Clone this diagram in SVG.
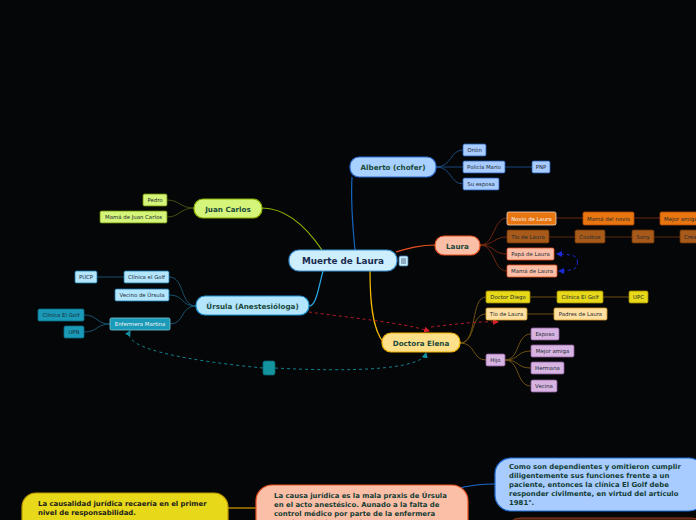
<svg xmlns="http://www.w3.org/2000/svg" width="696" height="520" viewBox="0 0 696 520">
<defs>
<style>
text{font-family:"DejaVu Sans","Verdana",sans-serif;}
.main{font-size:7.2px;font-weight:bold;fill:#1b4a3c;text-anchor:middle;}
.root{font-size:8.8px;font-weight:bold;fill:#1a2b4f;text-anchor:middle;}
.sub{font-size:5.4px;fill:#1c2a33;text-anchor:middle;}
.subw{font-size:5.4px;fill:#f4f4f4;text-anchor:middle;}
.big{font-size:6.9px;font-weight:bold;fill:#1a1a1a;}
.bigg{font-size:6.9px;font-weight:bold;fill:#123c33;}
.c{fill:none;stroke-width:1.2;}
.cs{fill:none;stroke-width:0.9;}
.dash{fill:none;stroke-width:1;stroke-dasharray:3,3;}
</style>
<marker id="arR" markerWidth="6" markerHeight="6" refX="5" refY="3" orient="auto" markerUnits="userSpaceOnUse"><path d="M0,0 L6,3 L0,6 z" fill="#d8202a"/></marker>
<marker id="arT" markerWidth="6" markerHeight="6" refX="5" refY="3" orient="auto" markerUnits="userSpaceOnUse"><path d="M0,0 L6,3 L0,6 z" fill="#138fa0"/></marker>
<marker id="arB" markerWidth="6" markerHeight="6" refX="5" refY="3" orient="auto" markerUnits="userSpaceOnUse"><path d="M0,0 L6,3 L0,6 z" fill="#1a2ad8"/></marker>
</defs>
<rect width="696" height="520" fill="#050608"/>

<g id="connectors">
<path class="c" d="M355,250 C352,220 351,195 352,177" stroke="#1565c0"/>
<path class="c" d="M396,252 C410,248 420,245 435,245" stroke="#e8501e"/>
<path class="c" d="M322,250 C305,225 285,208 262,208" stroke="#8db600"/>
<path class="c" d="M323,271 C318,290 316,306 309,306" stroke="#29a8e8"/>
<path class="c" d="M370,271 C370,300 372,330 384,343" stroke="#f5b800"/>
<path class="cs" stroke="#1e4f8a" d="M436,167 C452,167 450,150 463,150"/>
<path class="cs" stroke="#1e4f8a" d="M436,167 L463,167"/>
<path class="cs" stroke="#1e4f8a" d="M436,167 C452,167 450,184 463,184"/>
<path class="cs" stroke="#1e4f8a" d="M505,167 L532,167"/>
<path class="cs" stroke="#7a2a12" d="M480,245 C495,245 493,218 507,218"/>
<path class="cs" stroke="#7a2a12" d="M480,245 C495,245 493,237 507,237"/>
<path class="cs" stroke="#7a2a12" d="M480,245 C495,245 493,254 507,254"/>
<path class="cs" stroke="#7a2a12" d="M480,245 C495,245 493,271 507,271"/>
<path class="cs" stroke="#7a2a12" d="M556,218 L583,218 M634,218 L660,218"/>
<path class="cs" stroke="#6a2a10" d="M549,237 L575,237 M605,237 L632,237 M654,237 L680,237"/>
<path class="cs" stroke="#4a5a10" d="M194,208 C180,208 180,200 167,200"/>
<path class="cs" stroke="#4a5a10" d="M194,208 C180,208 180,217 167,217"/>
<path class="cs" stroke="#1a5878" d="M196,306 C180,306 185,277 169,277"/>
<path class="cs" stroke="#1a5878" d="M196,306 C180,306 185,295 169,295"/>
<path class="cs" stroke="#1a5878" d="M196,306 C180,306 185,324 170,324"/>
<path class="cs" stroke="#1a5878" d="M124,277 L97,277"/>
<path class="cs" stroke="#1a5878" d="M110,324 C96,324 98,315 84,315"/>
<path class="cs" stroke="#1a5878" d="M110,324 C96,324 98,332 84,332"/>
<path class="cs" stroke="#7a5a12" d="M460,343 C478,343 470,297 486,297"/>
<path class="cs" stroke="#7a5a12" d="M460,343 C476,343 470,314 486,314"/>
<path class="cs" stroke="#7a5a12" d="M460,343 C476,343 472,360 486,360"/>
<path class="cs" stroke="#7a5a12" d="M530,297 L557,297 M603,297 L629,297"/>
<path class="cs" stroke="#7a5a12" d="M527,314 L554,314"/>
<path class="cs" stroke="#7a5a12" d="M505,360 C520,360 516,334 531,334"/>
<path class="cs" stroke="#7a5a12" d="M505,360 C520,360 516,351 531,351"/>
<path class="cs" stroke="#7a5a12" d="M505,360 C520,360 516,368 531,368"/>
<path class="cs" stroke="#7a5a12" d="M505,360 C520,360 516,386 531,386"/>
<path class="c" stroke="#d89a00" d="M228,508 L256,508"/>
<path class="c" stroke="#1e6ad0" d="M456,489 C470,485 480,484 495,484"/>
<path class="dash" stroke="#b01c28" d="M309,312 C350,318 400,322 429,331" marker-end="url(#arR)"/>
<path class="dash" stroke="#b01c28" d="M431,327 C455,324 480,321 498,322" marker-end="url(#arR)"/>
<path class="dash" stroke="#127f90" d="M263,368 C200,362 120,350 130,331" marker-end="url(#arT)"/>
<path class="dash" stroke="#127f90" d="M275,368 C350,372 422,370 426,353" marker-end="url(#arT)"/>
<path class="dash" stroke="#1a2ad8" d="M577,262 C580,256 570,254 557,254" marker-end="url(#arB)"/>
<path class="dash" stroke="#1a2ad8" d="M577,262 C580,268 572,271 559,271" marker-end="url(#arB)"/>
</g>

<g id="root">
<rect x="289" y="250" width="108" height="21" rx="10" fill="#cdeefc" stroke="#3b8fd0" stroke-width="1.2"/>
<text class="root" x="343" y="264">Muerte de Laura</text>
<rect x="399" y="256" width="9" height="10" rx="1.5" fill="#cdeefc" stroke="#3a7ab0" stroke-width="0.8"/>
<path d="M401,259 H406 M401,261 H406 M401,263 H406" stroke="#2a4a6a" stroke-width="0.8"/>
</g>

<g id="alberto">
<rect x="350" y="157" width="86" height="20" rx="9" fill="#a8d1ff" stroke="#2a6ad0" stroke-width="1.2"/>
<text class="main" x="393" y="170">Alberto (chofer)</text>
</g>
<g id="orion"><rect x="463" y="144" width="23" height="12" rx="1.5" fill="#a8ccff" stroke="#1e5bb0" stroke-width="0.8"/><text class="sub" x="474.5" y="152">Orión</text></g>
<g id="mario"><rect x="463" y="161" width="42" height="12" rx="1.5" fill="#a8ccff" stroke="#1e5bb0" stroke-width="0.8"/><text class="sub" x="484" y="169">Policía Mario</text></g>
<g id="esposa"><rect x="463" y="178" width="36" height="12" rx="1.5" fill="#a8ccff" stroke="#1e5bb0" stroke-width="0.8"/><text class="sub" x="481" y="186">Su esposa</text></g>
<g id="pnp"><rect x="532" y="161" width="18" height="12" rx="1.5" fill="#a8ccff" stroke="#1e5bb0" stroke-width="0.8"/><text class="sub" x="541" y="169">PNP</text></g>

<g id="laura">
<rect x="435" y="236" width="45" height="19" rx="9" fill="#fbbfa8" stroke="#e8501e" stroke-width="1.2"/>
<text class="main" x="457.5" y="248.5">Laura</text>
</g>
<g id="novio"><rect x="507" y="212" width="49" height="13" rx="1.5" fill="#e8750f" stroke="#f4d8c0" stroke-width="0.8"/><text class="subw" x="531.5" y="220.5">Novio de Laura</text></g>
<g id="mamanovio"><rect x="583" y="212" width="51" height="13" rx="1.5" fill="#e8750f" stroke="#b04a08" stroke-width="0.8"/><text class="sub" x="608.5" y="220.5">Mamá del novio</text></g>
<g id="mejoramig"><rect x="660" y="212" width="44" height="13" rx="1.5" fill="#e8750f" stroke="#b04a08" stroke-width="0.8"/><text class="sub" x="664" y="220.5" style="text-anchor:start">Mejor amiga</text></g>
<g id="tiolaura1"><rect x="507" y="230" width="42" height="13" rx="1.5" fill="#a85a1a" stroke="#6a3408" stroke-width="0.8"/><text class="sub" x="528" y="238.5">Tío de Laura</text></g>
<g id="coolbox"><rect x="575" y="230" width="30" height="13" rx="1.5" fill="#a85a1a" stroke="#6a3408" stroke-width="0.8"/><text class="sub" x="590" y="238.5">Coolbox</text></g>
<g id="sony"><rect x="632" y="230" width="22" height="13" rx="1.5" fill="#a85a1a" stroke="#6a3408" stroke-width="0.8"/><text class="sub" x="643" y="238.5">Sony</text></g>
<g id="crea"><rect x="680" y="230" width="30" height="13" rx="1.5" fill="#a85a1a" stroke="#6a3408" stroke-width="0.8"/><text class="sub" x="684" y="238.5" style="text-anchor:start">Creaciones</text></g>
<g id="papa"><rect x="507" y="248" width="47" height="12" rx="1.5" fill="#fbbfa8" stroke="#e8501e" stroke-width="0.8"/><text class="sub" x="530.5" y="256">Papá de Laura</text></g>
<g id="mama"><rect x="507" y="265" width="50" height="12" rx="1.5" fill="#fbbfa8" stroke="#e8501e" stroke-width="0.8"/><text class="sub" x="532" y="273">Mamá de Laura</text></g>

<g id="juancarlos">
<rect x="194" y="199" width="68" height="19" rx="9" fill="#d4f57a" stroke="#8ab000" stroke-width="1.2"/>
<text class="main" x="228" y="211.5">Juan Carlos</text>
</g>
<g id="pedro"><rect x="143" y="194" width="24" height="12" rx="1.5" fill="#d4f57a" stroke="#6a8a00" stroke-width="0.8"/><text class="sub" x="155" y="202">Pedro</text></g>
<g id="mamajc"><rect x="100" y="211" width="67" height="12" rx="1.5" fill="#d4f57a" stroke="#6a8a00" stroke-width="0.8"/><text class="sub" x="133.5" y="219">Mamá de Juan Carlos</text></g>

<g id="ursula">
<rect x="196" y="296" width="113" height="19" rx="9" fill="#b3e5fc" stroke="#1a8fd0" stroke-width="1.2"/>
<text class="main" x="252.5" y="308.5">Úrsula (Anestesióloga)</text>
</g>
<g id="clinicagolf1"><rect x="124" y="271" width="45" height="12" rx="1.5" fill="#b3e5fc" stroke="#1a7ab0" stroke-width="0.8"/><text class="sub" x="146.5" y="279">Clínica el Golf</text></g>
<g id="pucp"><rect x="75" y="271" width="22" height="12" rx="1.5" fill="#b3e5fc" stroke="#1a7ab0" stroke-width="0.8"/><text class="sub" x="86" y="279">PUCP</text></g>
<g id="vecino"><rect x="115" y="289" width="54" height="12" rx="1.5" fill="#b3e5fc" stroke="#1a7ab0" stroke-width="0.8"/><text class="sub" x="142" y="297">Vecino de Úrsula</text></g>
<g id="enfermera"><rect x="110" y="318" width="60" height="12" rx="1.5" fill="#1a9ab8" stroke="#7ac8d8" stroke-width="0.8"/><text class="subw" x="140" y="326">Enfermera Martina</text></g>
<g id="clinicagolf2"><rect x="38" y="309" width="46" height="12" rx="1.5" fill="#1a9ab8" stroke="#0a6a80" stroke-width="0.8"/><text class="sub" x="61" y="317">Clínica El Golf</text></g>
<g id="upn"><rect x="64" y="326" width="20" height="12" rx="1.5" fill="#1a9ab8" stroke="#0a6a80" stroke-width="0.8"/><text class="sub" x="74" y="334">UPN</text></g>
<g id="tealbox"><rect x="263" y="361" width="12" height="14" rx="2" fill="#13949f" stroke="#0a6a75" stroke-width="0.8"/></g>

<g id="doctora">
<rect x="382" y="333" width="78" height="19" rx="9" fill="#ffe08a" stroke="#f0b000" stroke-width="1.2"/>
<text class="main" x="421" y="345.5">Doctora Elena</text>
</g>
<g id="diego"><rect x="486" y="291" width="44" height="12" rx="1.5" fill="#e8d81a" stroke="#a08a00" stroke-width="0.8"/><text class="sub" x="508" y="299">Doctor Diego</text></g>
<g id="clinicagolf3"><rect x="557" y="291" width="46" height="12" rx="1.5" fill="#e8d81a" stroke="#a08a00" stroke-width="0.8"/><text class="sub" x="580" y="299">Clínica El Golf</text></g>
<g id="upc"><rect x="629" y="291" width="19" height="12" rx="1.5" fill="#e8d81a" stroke="#a08a00" stroke-width="0.8"/><text class="sub" x="638.5" y="299">UPC</text></g>
<g id="tiolaura2"><rect x="486" y="308" width="41" height="12" rx="1.5" fill="#ffe0a0" stroke="#d89a20" stroke-width="0.8"/><text class="sub" x="506.5" y="316">Tío de Laura</text></g>
<g id="padres"><rect x="554" y="308" width="53" height="12" rx="1.5" fill="#ffe0a0" stroke="#d89a20" stroke-width="0.8"/><text class="sub" x="580.5" y="316">Padres de Laura</text></g>
<g id="hijo"><rect x="486" y="354" width="19" height="12" rx="1.5" fill="#d8b4e2" stroke="#8a5a9a" stroke-width="0.8"/><text class="sub" x="495.5" y="362">Hijo</text></g>
<g id="esposo"><rect x="531" y="328" width="28" height="12" rx="1.5" fill="#d8b4e2" stroke="#8a5a9a" stroke-width="0.8"/><text class="sub" x="545" y="336">Esposo</text></g>
<g id="mejoramiga"><rect x="531" y="345" width="43" height="12" rx="1.5" fill="#d8b4e2" stroke="#8a5a9a" stroke-width="0.8"/><text class="sub" x="552.5" y="353">Mejor amiga</text></g>
<g id="hermana"><rect x="531" y="362" width="33" height="12" rx="1.5" fill="#d8b4e2" stroke="#8a5a9a" stroke-width="0.8"/><text class="sub" x="547.5" y="370">Hermana</text></g>
<g id="vecina"><rect x="531" y="380" width="26" height="12" rx="1.5" fill="#d8b4e2" stroke="#8a5a9a" stroke-width="0.8"/><text class="sub" x="544" y="388">Vecina</text></g>

<g id="causalidad">
<rect x="22" y="493" width="206" height="40" rx="14" fill="#e8d81a" stroke="#c09a00" stroke-width="1.2"/>
<text class="big" x="38" y="506">La causalidad jurídica recaería en el primer</text>
<text class="big" x="38" y="515">nivel de responsabilidad.</text>
</g>
<g id="causa">
<rect x="256" y="485" width="212" height="55" rx="16" fill="#fbbfa8" stroke="#e8501e" stroke-width="1.2"/>
<text class="bigg" x="274" y="498">La causa jurídica es la mala praxis de Úrsula</text>
<text class="bigg" x="274" y="507">en el acto anestésico. Aunado a la falta de</text>
<text class="bigg" x="274" y="516">control médico por parte de la enfermera</text>
<text class="bigg" x="274" y="525">Martina y la doctora Elena.</text>
</g>
<g id="dependientes">
<rect x="495" y="458" width="210" height="53" rx="16" fill="#a8ccff" stroke="#1e6ad0" stroke-width="1.2"/>
<text class="bigg" x="509" y="469">Como son dependientes y omitieron cumplir</text>
<text class="bigg" x="509" y="478">diligentemente sus funciones frente a un</text>
<text class="bigg" x="509" y="487">paciente, entonces la clínica El Golf debe</text>
<text class="bigg" x="509" y="496">responder civilmente, en virtud del artículo</text>
<text class="bigg" x="509" y="505">1981°.</text>
</g>
<g id="hidden">
<rect x="506" y="518" width="200" height="30" rx="14" fill="#4a2010" stroke="#8a3a1a" stroke-width="1"/>
</g>
</svg>
